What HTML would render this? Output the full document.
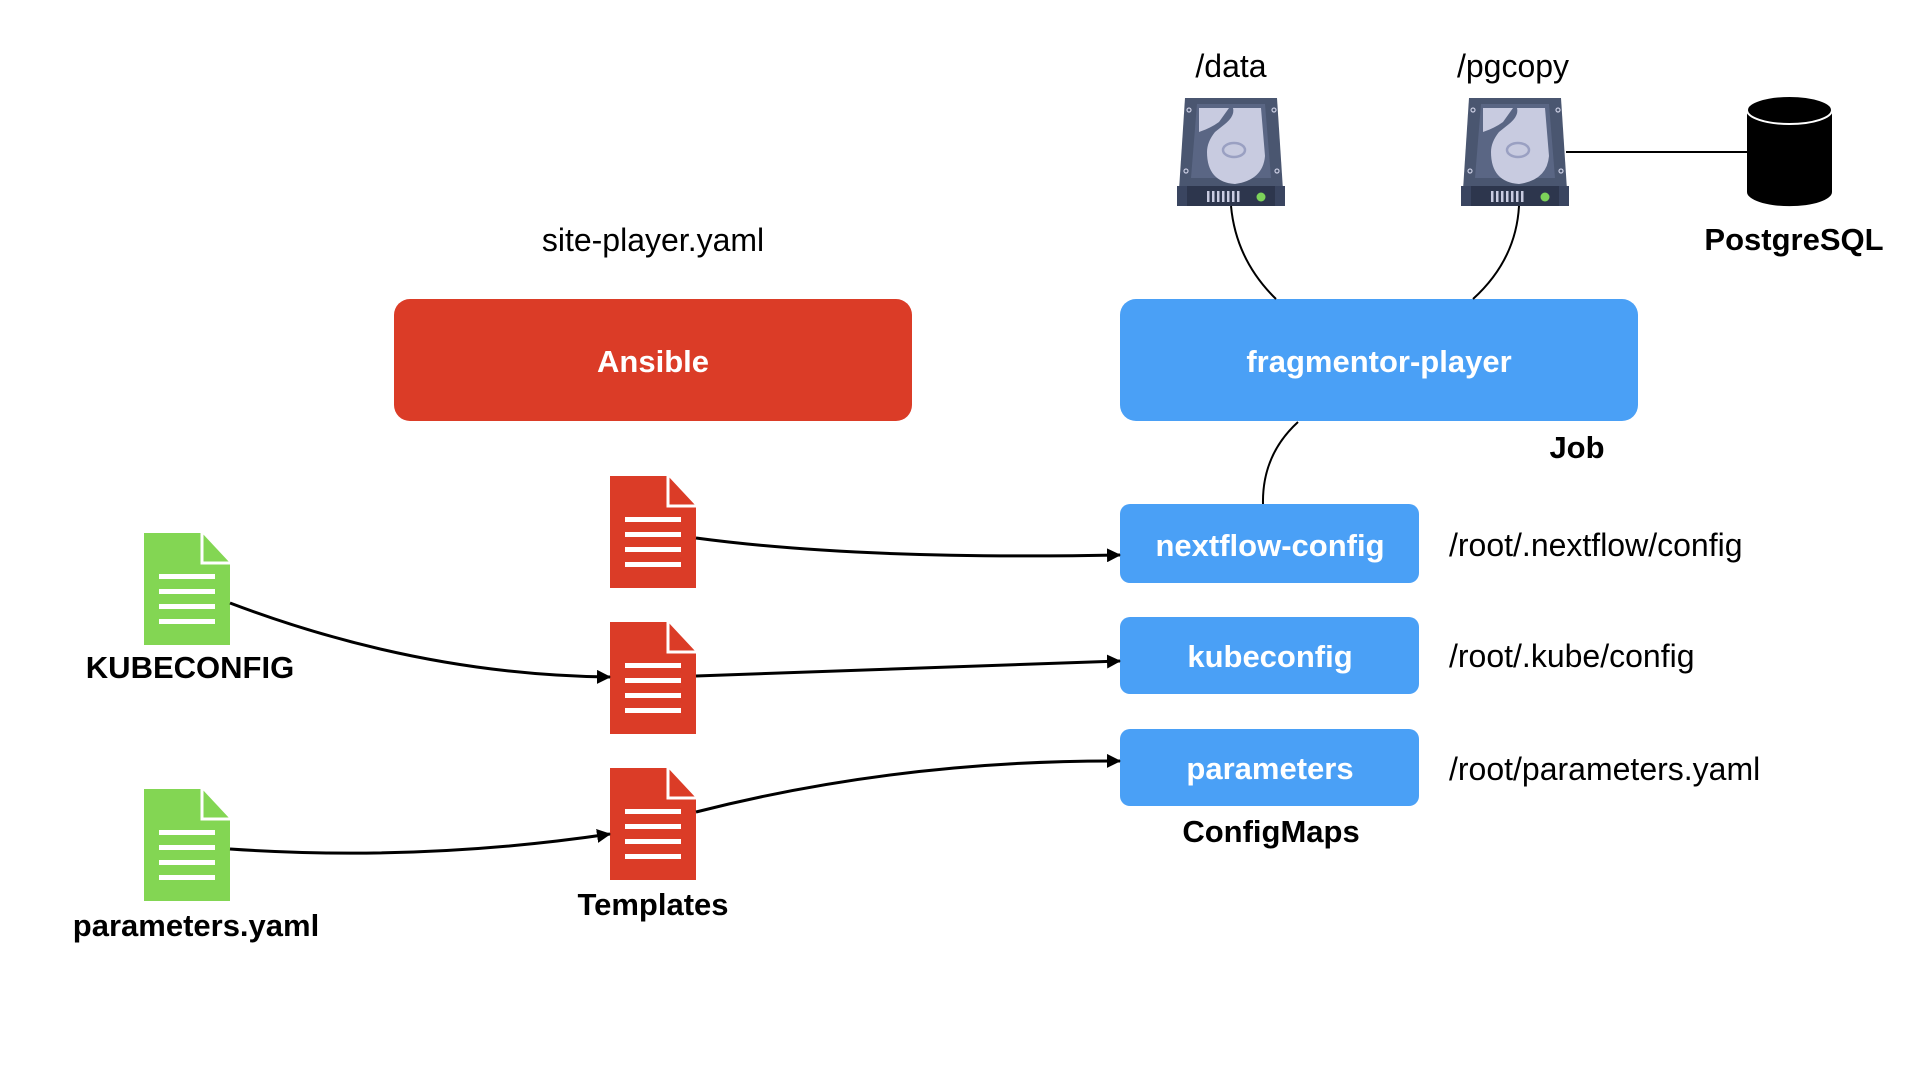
<!DOCTYPE html>
<html><head><meta charset="utf-8"><style>
html,body{margin:0;padding:0;background:#fff;}
svg{display:block;font-family:"Liberation Sans",Arial,sans-serif;}
</style></head><body>
<svg width="1920" height="1080" viewBox="0 0 1920 1080" xmlns="http://www.w3.org/2000/svg">
<defs>
<marker id="ah" markerWidth="14" markerHeight="14" refX="13" refY="7" orient="auto" markerUnits="userSpaceOnUse">
<path d="M0,0 L14,7 L0,14 Z" fill="#000"/></marker>
<g id="hdd">
<path d="M8,0 H100 L106,92 H2 Z" fill="#4a5670"/>
<path d="M20,6 H88 L94,80 H14 Z" fill="#5a6684"/>
<path d="M22,10 H56 Q58,18 48,26 L38,34 Q30,44 30,54 Q30,84 58,86 Q86,82 88,58 L84,10 Z" fill="#c8cbe0"/>
<path d="M22,10 H52 L42,24 Q34,30 22,34 Z" fill="#c8cbe0"/>
<ellipse cx="57" cy="52" rx="11" ry="7" fill="none" stroke="#9aa0c2" stroke-width="2.5"/>
<circle cx="12" cy="12" r="2" fill="none" stroke="#c8cbe0" stroke-width="1.2"/>
<circle cx="97" cy="12" r="2" fill="none" stroke="#c8cbe0" stroke-width="1.2"/>
<circle cx="9" cy="73" r="2" fill="none" stroke="#c8cbe0" stroke-width="1.2"/>
<circle cx="100" cy="73" r="2" fill="none" stroke="#c8cbe0" stroke-width="1.2"/>
<rect x="0" y="88" width="108" height="20" fill="#3a4560"/>
<rect x="10" y="88" width="88" height="20" fill="#2d364d"/>
<g fill="#c8cbe0"><rect x="30" y="93" width="2.5" height="11"/><rect x="35" y="93" width="2.5" height="11"/><rect x="40" y="93" width="2.5" height="11"/><rect x="45" y="93" width="2.5" height="11"/><rect x="50" y="93" width="2.5" height="11"/><rect x="55" y="93" width="2.5" height="11"/><rect x="60" y="93" width="2.5" height="11"/></g>
<circle cx="84" cy="99" r="4.5" fill="#7dd35a"/>
</g>
<g id="doc">
<path d="M0,0 H58 L86,30 V112 H0 Z"/>
<g fill="#fff"><rect x="15" y="41" width="56" height="5"/><rect x="15" y="56" width="56" height="5"/><rect x="15" y="71" width="56" height="5"/><rect x="15" y="86" width="56" height="5"/></g>
<path d="M58,0 V30 H86" fill="none" stroke="#fff" stroke-width="3"/>
</g>
</defs>

<text x="653" y="251" font-size="32" text-anchor="middle">site-player.yaml</text>
<rect x="394" y="299" width="518" height="122" rx="16" fill="#db3c27"/>
<text x="653" y="372" font-size="31" font-weight="bold" fill="#fff" text-anchor="middle">Ansible</text>

<rect x="1120" y="299" width="518" height="122" rx="16" fill="#4aa0f6"/>
<text x="1379" y="372" font-size="31" font-weight="bold" fill="#fff" text-anchor="middle">fragmentor-player</text>
<text x="1577" y="458" font-size="31" font-weight="bold" text-anchor="middle">Job</text>

<rect x="1120" y="504" width="299" height="79" rx="10" fill="#4aa0f6"/>
<text x="1270" y="556" font-size="31" font-weight="bold" fill="#fff" text-anchor="middle">nextflow-config</text>
<rect x="1120" y="617" width="299" height="77" rx="10" fill="#4aa0f6"/>
<text x="1270" y="667" font-size="31" font-weight="bold" fill="#fff" text-anchor="middle">kubeconfig</text>
<rect x="1120" y="729" width="299" height="77" rx="10" fill="#4aa0f6"/>
<text x="1270" y="779" font-size="31" font-weight="bold" fill="#fff" text-anchor="middle">parameters</text>
<text x="1271" y="842" font-size="31" font-weight="bold" text-anchor="middle">ConfigMaps</text>

<text x="1449" y="556" font-size="32">/root/.nextflow/config</text>
<text x="1449" y="667" font-size="32">/root/.kube/config</text>
<text x="1449" y="780" font-size="32">/root/parameters.yaml</text>

<use href="#hdd" x="1177" y="98"/>
<use href="#hdd" x="1461" y="98"/>
<text x="1231" y="77" font-size="32" text-anchor="middle">/data</text>
<text x="1513" y="77" font-size="32" text-anchor="middle">/pgcopy</text>

<line x1="1566" y1="152" x2="1748" y2="152" stroke="#000" stroke-width="2"/>
<path d="M1747,110 V192 A42,14 0 0 0 1832,192 V110 Z" fill="#000"/>
<ellipse cx="1789.5" cy="110" rx="42.5" ry="14" fill="#000" stroke="#fff" stroke-width="2"/>
<text x="1794" y="250" font-size="31" font-weight="bold" text-anchor="middle">PostgreSQL</text>

<g fill="none" stroke="#000" stroke-width="2">
<path d="M1231,206 Q1236,260 1276,299"/>
<path d="M1519,206 Q1516,260 1473,299"/>
<path d="M1298,422 Q1262,455 1263,504"/>
</g>

<g fill="#db3c27"><use href="#doc" x="610" y="476"/><use href="#doc" x="610" y="622"/><use href="#doc" x="610" y="768"/></g>
<g fill="#83d653"><use href="#doc" x="144" y="533"/><use href="#doc" x="144" y="789"/></g>

<text x="190" y="678" font-size="31" font-weight="bold" text-anchor="middle">KUBECONFIG</text>
<text x="196" y="936" font-size="31" font-weight="bold" text-anchor="middle">parameters.yaml</text>
<text x="653" y="915" font-size="31" font-weight="bold" text-anchor="middle">Templates</text>

<g fill="none" stroke="#000" stroke-width="3" marker-end="url(#ah)">
<path d="M696,538 Q860,560 1120,555"/>
<path d="M230,603 Q420,675 610,677"/>
<path d="M696,676 L1120,661"/>
<path d="M230,849 Q420,862 610,834"/>
<path d="M696,812 Q900,760 1120,761"/>
</g>
</svg>
</body></html>
